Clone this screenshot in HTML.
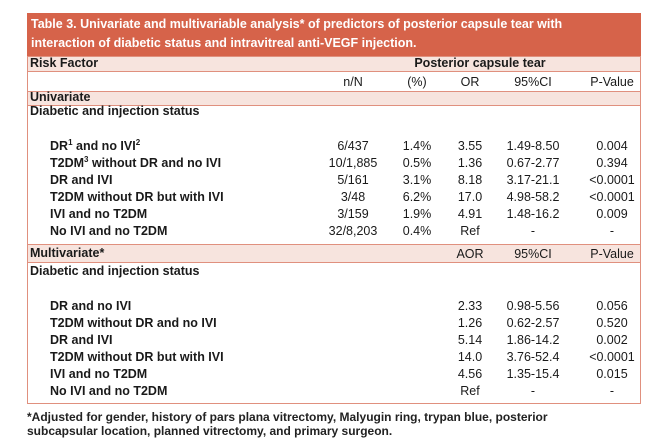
<!DOCTYPE html>
<html><head><meta charset="utf-8"><style>
body{margin:0;width:661px;height:439px;background:#fff;font-family:"Liberation Sans",Arial,sans-serif;position:relative;overflow:hidden}
.a{position:absolute;white-space:nowrap;font-size:12.5px;color:#1a1a1a;line-height:15px}
.b{font-weight:bold}
.c{transform:translateX(-50%)}
.s{font-size:8px;line-height:0;position:relative;top:-5px}
.box{position:absolute;left:27px;width:614px;border:1.5px solid #e0907e;box-sizing:border-box}
.pink{position:absolute;left:27px;width:614px;background:#f7e4de;border:1.5px solid #e0907e;box-sizing:border-box}
</style></head><body>
<div style="position:absolute;left:27px;top:13px;width:614px;height:43px;background:#d6634a"></div>
<div class="a b" style="left:31px;top:15px;color:#fff;font-size:12.5px;line-height:19px">Table 3. Univariate and multivariable analysis* of predictors of posterior capsule tear with<br>interaction of diabetic status and intravitreal anti-VEGF injection.</div>
<div class="pink" style="top:56px;height:16px"></div>
<div class="a b" style="left:30px;top:56px">Risk Factor</div>
<div class="a b c" style="left:480px;top:56px">Posterior capsule tear</div>
<div class="box" style="top:71px;height:21px"></div>
<div class="pink" style="top:91px;height:15px"></div>
<div class="a b" style="left:30px;top:90px">Univariate</div>
<div class="box" style="top:105px;height:140px"></div>
<div class="a b" style="left:30px;top:104px">Diabetic and injection status</div>
<div class="pink" style="top:244px;height:19px"></div>
<div class="a b" style="left:30px;top:246px">Multivariate*</div>
<div class="box" style="top:262px;height:142px"></div>
<div class="a b" style="left:30px;top:264px">Diabetic and injection status</div>
<div class="a" style="left:27px;top:410px;font-size:12px;font-weight:bold;color:#222;line-height:14px">*Adjusted for gender, history of pars plana vitrectomy, Malyugin ring, trypan blue, posterior<br>subcapsular location, planned vitrectomy, and primary surgeon.</div>
<div id="t"></div>
<script>
const cols=[353,417,470,533,612];
const hdr1=["n/N","(%)","OR","95%CI","P-Value"];
const hdr2=["","","AOR","95%CI","P-Value"];
const labels=["DR¹ and no IVI²","T2DM³ without DR and no IVI","DR and IVI","T2DM without DR but with IVI","IVI and no T2DM","No IVI and no T2DM"];
const labels2=["DR and no IVI","T2DM without DR and no IVI","DR and IVI","T2DM without DR but with IVI","IVI and no T2DM","No IVI and no T2DM"];
const nN=["6/437","10/1,885","5/161","3/48","3/159","32/8,203"];
const pct=["1.4%","0.5%","3.1%","6.2%","1.9%","0.4%"];
const orU=["3.55","1.36","8.18","17.0","4.91","Ref"];
const ciU=["1.49-8.50","0.67-2.77","3.17-21.1","4.98-58.2","1.48-16.2","-"];
const pU=["0.004","0.394","<0.0001","<0.0001","0.009","-"];
const orM=["2.33","1.26","5.14","14.0","4.56","Ref"];
const ciM=["0.98-5.56","0.62-2.57","1.86-14.2","3.76-52.4","1.35-15.4","-"];
const pM=["0.056","0.520","0.002","<0.0001","0.015","-"];
const T=document.getElementById('t');
function put(txt,x,y,cls,name){const d=document.createElement('div');d.className='a '+cls;d.style.left=x+'px';d.style.top=y+'px';d.textContent=txt;


T.appendChild(d);}
hdr1.forEach((h,i)=>put(h,cols[i],75,'c','col-header'));
hdr2.forEach((h,i)=>{if(h)put(h,cols[i],247,'c','col-header-multivariate');});
labels.forEach((l,r)=>{const y=139+r*17;
put(l,50,y,'b','row-label-univariate');
[nN,pct,orU,ciU,pU].forEach((a,i)=>put(a[r],cols[i],y,'c','cell-univariate'));});
labels2.forEach((l,r)=>{const y=299+r*17;
put(l,50,y,'b','row-label-multivariate');
[orM,ciM,pM].forEach((a,i)=>put(a[r],cols[i+2],y,'c','cell-multivariate'));});
T.querySelectorAll('.b').forEach(e=>{if(e.textContent.includes('¹')){e.innerHTML='DR<span class="s">1</span> and no IVI<span class="s">2</span>';}
if(e.textContent.includes('³')){e.innerHTML='T2DM<span class="s">3</span> without DR and no IVI';}});
</script>
</body></html>
